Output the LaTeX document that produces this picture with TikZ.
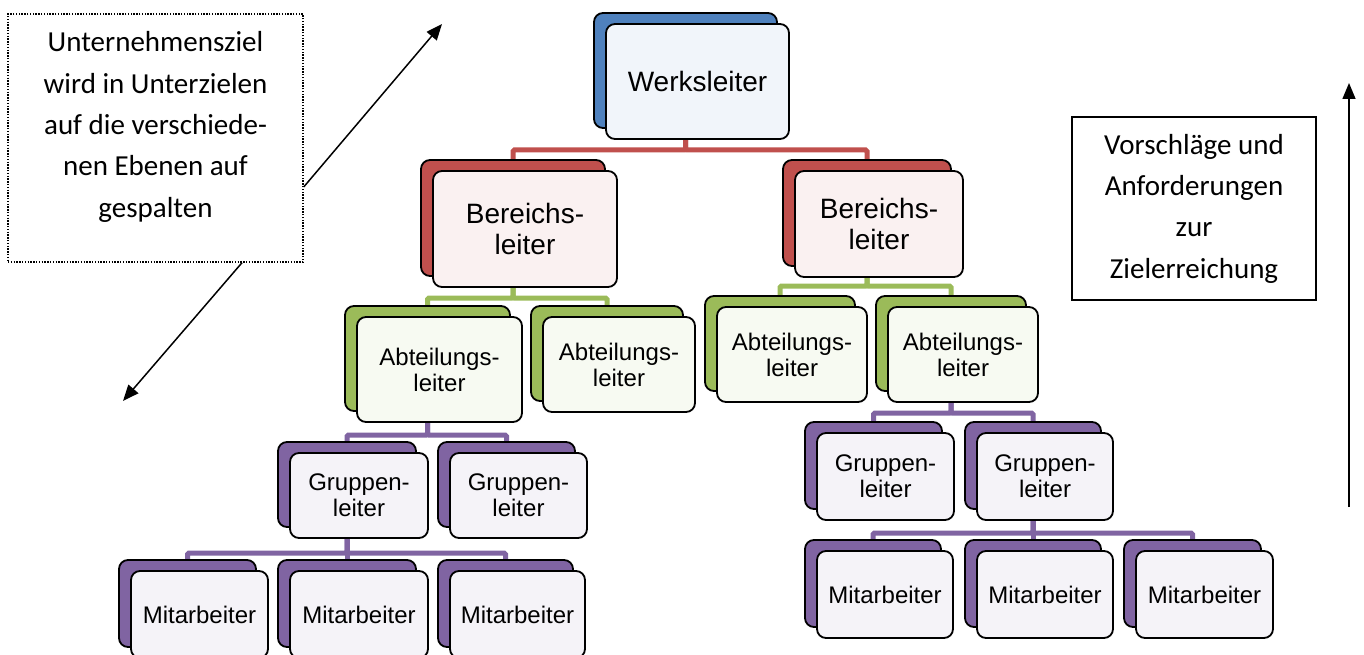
\documentclass[tikz,border=0pt]{standalone}
\usepackage{fontspec}
\setmainfont{Liberation Sans}
\newfontfamily\notefont{Carlito}
\usetikzlibrary{arrows.meta,backgrounds}

\definecolor{werkblue}{HTML}{4F81BD}
\definecolor{bereichred}{HTML}{C0504D}
\definecolor{abtgreen}{HTML}{9BBB59}
\definecolor{grppurple}{HTML}{8064A2}

\tikzset{
    backbox/.style={draw=black, line width=1.8pt, rounded corners=9pt, fill=#1, inner sep=0pt},
    frontbox/.style={draw=black, line width=1.8pt, rounded corners=9pt, fill=#1!8!white, inner sep=0pt, align=center},
    bigtext/.style={font=\fontsize{28}{31}\selectfont},
    smalltext/.style={font=\fontsize{24}{26}\selectfont},
    linkline/.style={draw=#1, line width=5pt, rounded corners=1.5pt},
    notetext/.style={font=\notefont\fontsize{29}{41.3}\selectfont, align=center},
    pointer/.style={line width=1.5pt, -{Triangle[length=16pt,width=13pt]}},
}

% #1 name, #2 centre, #3 width, #4 height, #5 colour, #6 text style, #7 text
\newcommand\orgbox[7]{%
    \node[backbox=#5, minimum width=#3pt, minimum height=#4pt, xshift=-12pt, yshift=11pt] (#1-b) at (#2) {};
    \node[frontbox=#5, #6, minimum width=#3pt, minimum height=#4pt] (#1) at (#2) {#7};
}

\begin{document}
\begin{tikzpicture}[x=1pt, y=-1pt]
    \useasboundingbox (0,0) rectangle (1364,655);

    \orgbox{werk}{697.5,81.5}{183}{115}{werkblue}{bigtext}{Werksleiter}

    \orgbox{bl1}{525,229}{184}{116}{bereichred}{bigtext}{Bereichs-\\leiter}
    \orgbox{bl2}{879,224}{168}{106}{bereichred}{bigtext}{Bereichs-\\leiter}

    \orgbox{al1}{439.5,369.5}{165}{105}{abtgreen}{smalltext}{Abteilungs-\\leiter}
    \orgbox{al2}{619,364.5}{152}{95}{abtgreen}{smalltext}{Abteilungs-\\leiter}
    \orgbox{al3}{792,354.5}{150}{95}{abtgreen}{smalltext}{Abteilungs-\\leiter}
    \orgbox{al4}{963,354.5}{150}{95}{abtgreen}{smalltext}{Abteilungs-\\leiter}

    \orgbox{gl1}{359,495.5}{138}{85}{grppurple}{smalltext}{Gruppen-\\leiter}
    \orgbox{gl2}{518.5,495.5}{137}{85}{grppurple}{smalltext}{Gruppen-\\leiter}
    \orgbox{gl3}{885.5,476.5}{137}{87}{grppurple}{smalltext}{Gruppen-\\leiter}
    \orgbox{gl4}{1045,476.5}{136}{87}{grppurple}{smalltext}{Gruppen-\\leiter}

    \orgbox{ma1}{199.5,614.5}{137}{87}{grppurple}{smalltext}{Mitarbeiter}
    \orgbox{ma2}{359,614.5}{138}{87}{grppurple}{smalltext}{Mitarbeiter}
    \orgbox{ma3}{517.5,614.5}{135}{87}{grppurple}{smalltext}{Mitarbeiter}
    \orgbox{ma4}{885,594.5}{136}{87}{grppurple}{smalltext}{Mitarbeiter}
    \orgbox{ma5}{1045,594.5}{136}{87}{grppurple}{smalltext}{Mitarbeiter}
    \orgbox{ma6}{1204.5,594.5}{137}{87}{grppurple}{smalltext}{Mitarbeiter}

    % connectors behind the boxes
    \begin{scope}[on background layer]
        \foreach \kid in {bl1,bl2}
            \draw[linkline=bereichred] (werk-b.center) |- (\kid-b.north |- 0,150) -- (\kid-b.north);
        \foreach \kid in {al1,al2}
            \draw[linkline=abtgreen] (bl1-b.center) |- (\kid-b.north |- 0,298) -- (\kid-b.north);
        \foreach \kid in {al3,al4}
            \draw[linkline=abtgreen] (bl2-b.center) |- (\kid-b.north |- 0,286) -- (\kid-b.north);
        \foreach \kid in {gl1,gl2}
            \draw[linkline=grppurple] (al1-b.center) |- (\kid-b.north |- 0,435) -- (\kid-b.north);
        \foreach \kid in {gl3,gl4}
            \draw[linkline=grppurple] (al4-b.center) |- (\kid-b.north |- 0,413) -- (\kid-b.north);
        \foreach \kid in {ma1,ma2,ma3}
            \draw[linkline=grppurple] (gl1-b.center) |- (\kid-b.north |- 0,553) -- (\kid-b.north);
        \foreach \kid in {ma4,ma5,ma6}
            \draw[linkline=grppurple] (gl4-b.center) |- (\kid-b.north |- 0,533) -- (\kid-b.north);
    \end{scope}

    % notes and arrows
    \node[draw, line width=1.4pt, dash pattern=on 1.4pt off 1.4pt, minimum width=295pt, minimum height=248pt] (goal) at (155.5,138) {};
    \node[notetext] (goaltext) at (155.5,127) {Unternehmensziel\\wird in Unterzielen\\auf die verschiede-\\nen Ebenen auf\\gespalten};
    \node[notetext, draw, line width=1.4pt, minimum width=244pt, minimum height=183pt] (hint) at (1194,208.5) {Vorschläge und\\Anforderungen\\zur\\Zielerreichung};

    \coordinate (uptip) at (442,24);
    \coordinate (downtip) at (123,401);
    \coordinate (risefoot) at (1349,507);
    \coordinate (risetip) at (1349,83);
    \draw[pointer] ([yshift=-49pt]goal.east) -- (uptip);
    \draw[pointer] ([xshift=86.5pt]goal.south) -- (downtip);
    \draw[pointer] (risefoot) -- (risetip);
\end{tikzpicture}
\end{document}
